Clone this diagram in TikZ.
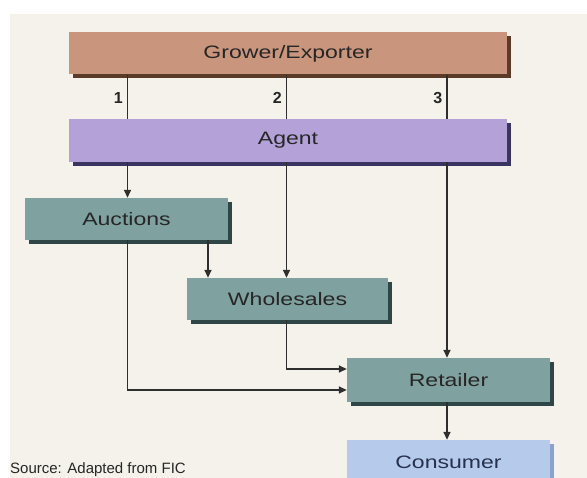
\documentclass[tikz,border=0pt]{standalone}
\usepackage{fontspec}
\setmainfont{Liberation Sans}
\newfontfamily\labelfont[FakeStretch=1.28]{Liberation Sans}
\usetikzlibrary{arrows.meta,shadows}

\definecolor{bgbeige}{HTML}{F4F2EA}
\definecolor{growertan}{HTML}{C9967D}
\definecolor{growershade}{HTML}{5C3A28}
\definecolor{agentlilac}{HTML}{B3A1D8}
\definecolor{agentshade}{HTML}{3A3560}
\definecolor{tradeteal}{HTML}{7FA19F}
\definecolor{tradeshade}{HTML}{2E4645}
\definecolor{consumerblue}{HTML}{B6CAEC}
\definecolor{consumershade}{HTML}{8BA3CC}
\definecolor{linegray}{HTML}{2E2E2E}
\definecolor{textgray}{HTML}{262626}
\definecolor{textnavy}{HTML}{26324D}

\begin{document}
\begin{tikzpicture}
  [x=1pt,y=-1pt,every node/.style={inner sep=0pt},
   chainbox/.style={rectangle,minimum height=42pt,
     font={\labelfont\fontsize{18}{20}\selectfont},text=textgray},
   boxshadow/.style={drop shadow={shadow xshift=4pt,shadow yshift=-4pt,opacity=1,fill=#1}},
   flow/.style={draw=linegray,line width=1.5pt,-{Triangle[length=8pt,width=7pt]}},
   link/.style={draw=linegray,line width=1.5pt},
   chan/.style={font=\bfseries\fontsize{16}{16}\selectfont,text=textgray,anchor=east}]
    \clip (0,0) rectangle (587,478);
    \fill[white] (0,0) rectangle (587,478);
    \fill[bgbeige] (10,14) rectangle (587,478);

    \node (grower)    [chainbox,boxshadow=growershade,fill=growertan,minimum width=438pt] at (288,53.5) {Grower/Exporter};
    \node (agent)     [chainbox,boxshadow=agentshade,fill=agentlilac,minimum width=438pt,minimum height=43pt] at (288,140.5) {Agent};
    \node (auctions)  [chainbox,boxshadow=tradeshade,fill=tradeteal,minimum width=203pt] at (126.5,219) {Auctions};
    \node (wholesales)[chainbox,boxshadow=tradeshade,fill=tradeteal,minimum width=201pt] at (287.5,299) {Wholesales};
    \node (retailer)  [chainbox,boxshadow=tradeshade,fill=tradeteal,minimum width=203pt,minimum height=44pt] at (448.5,380) {Retailer};
    \node (consumer)  [chainbox,boxshadow=consumershade,fill=consumerblue,minimum width=203pt,minimum height=44pt,text=textnavy] at (448.5,462) {Consumer};

    % channel columns
    \coordinate (col1) at (127.5,0);
    \coordinate (col2) at (286.5,0);
    \coordinate (col3) at (447,0);
    \coordinate (colw) at (208,0);

    \node (n1)[chan] at (123,98) {1};
    \node (n2)[chan] at (282,98) {2};
    \node (n3)[chan] at (442.5,98) {3};

    \foreach \c in {col1,col2,col3}
      \draw[link] (grower.south -| \c) -- (agent.north -| \c);

    \foreach \from/\to/\c in {agent/auctions/col1,agent/wholesales/col2,agent/retailer/col3,auctions/wholesales/colw,retailer/consumer/col3}
      \draw[flow] (\from.south -| \c) -- (\to.north -| \c);

    \draw[flow] (wholesales.south -| col2) |- ([yshift=11pt]retailer.west);
    \draw[flow] (auctions.south -| col1) |- ([yshift=-10pt]retailer.west);

    \node (source)[anchor=base west,font=\fontsize{15}{15}\selectfont,text=black!85] at (10,474) {Source: Adapted from FIC};
  \end{tikzpicture}
\end{document}
